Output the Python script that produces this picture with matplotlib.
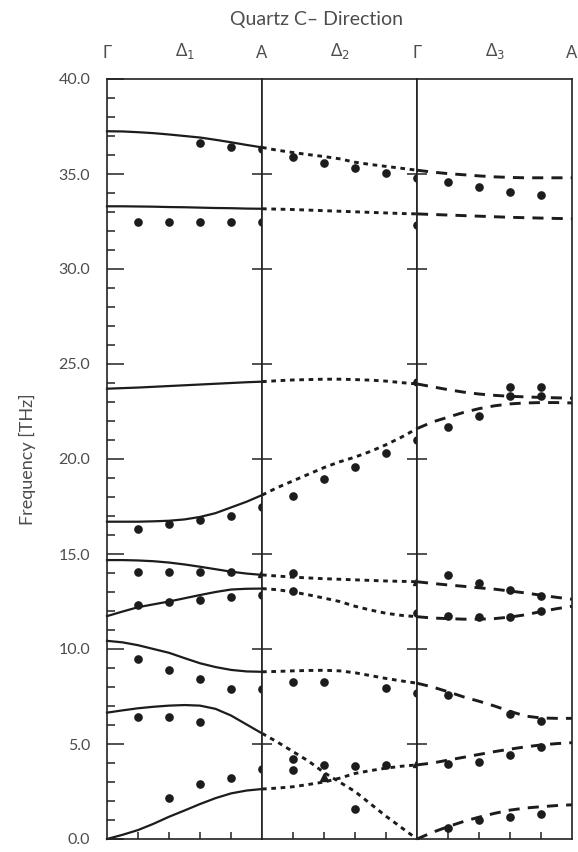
import numpy as np
import matplotlib
matplotlib.use('agg')
import matplotlib.pyplot as plt
from matplotlib.ticker import MultipleLocator, FormatStrFormatter

plt.rcParams.update({
    'font.family': ['Lato', 'DejaVu Sans'],
    'mathtext.fontset': 'dejavusans',
    'text.color': '#4d4d4d',
    'xtick.color': '#222222',
    'ytick.color': '#222222',
    'ytick.labelcolor': '#4d4d4d',
    'axes.edgecolor': '#222222',
})

INK = '#1c1c1c'

# wave vector grid along each leg (Gamma=0, A=1, Gamma=2, A=3)
q_leg1 = [0.0, 0.1, 0.2, 0.3, 0.4, 0.5, 0.6, 0.7, 0.8, 0.9, 1.0]
q_leg2 = [1.0, 1.1, 1.2, 1.3, 1.4, 1.5, 1.6, 1.7, 1.8, 1.9, 2.0]
q_leg3 = [2.0, 2.1, 2.2, 2.3, 2.4, 2.5, 2.6, 2.7, 2.8, 2.9, 3.0]

# calculated branches, Delta_1 (solid)
delta1 = [
    [37.25, 37.24, 37.2, 37.15, 37.08, 37.0, 36.92, 36.8, 36.67, 36.53, 36.4],
    [33.3, 33.3, 33.29, 33.28, 33.26, 33.25, 33.23, 33.21, 33.2, 33.18, 33.17],
    [23.7, 23.73, 23.76, 23.8, 23.84, 23.88, 23.92, 23.96, 24.0, 24.04, 24.07],
    [16.7, 16.7, 16.7, 16.72, 16.75, 16.82, 16.95, 17.15, 17.45, 17.75, 18.1],
    [14.68, 14.68, 14.66, 14.62, 14.55, 14.45, 14.33, 14.2, 14.07, 13.97, 13.9],
    [11.73, 11.97, 12.2, 12.35, 12.5, 12.67, 12.84, 13.0, 13.13, 13.17, 13.18],
    [10.43, 10.35, 10.2, 10.0, 9.8, 9.52, 9.25, 9.05, 8.9, 8.82, 8.8],
    [6.65, 6.77, 6.88, 6.96, 7.02, 7.05, 7.02, 6.85, 6.5, 6.03, 5.56],
    [0.0, 0.22, 0.47, 0.8, 1.17, 1.5, 1.84, 2.15, 2.4, 2.55, 2.63],
]

# Delta_2 (dotted)
delta2 = [
    [36.4, 36.25, 36.13, 36.02, 35.92, 35.8, 35.62, 35.5, 35.4, 35.3, 35.2],
    [33.17, 33.15, 33.13, 33.1, 33.07, 33.04, 33.01, 32.98, 32.95, 32.92, 32.9],
    [24.07, 24.12, 24.16, 24.18, 24.2, 24.2, 24.18, 24.15, 24.1, 24.02, 23.95],
    [18.1, 18.5, 18.85, 19.2, 19.55, 19.85, 20.1, 20.4, 20.75, 21.15, 21.6],
    [13.9, 13.84, 13.78, 13.74, 13.7, 13.67, 13.64, 13.61, 13.58, 13.56, 13.54],
    [13.18, 13.12, 13.0, 12.85, 12.68, 12.5, 12.25, 12.05, 11.88, 11.77, 11.7],
    [8.8, 8.82, 8.85, 8.87, 8.88, 8.85, 8.75, 8.6, 8.45, 8.32, 8.2],
    [5.56, 5.1, 4.6, 4.1, 3.5, 3.0, 2.5, 1.85, 1.2, 0.6, 0.0],
    [2.63, 2.68, 2.75, 2.87, 3.0, 3.2, 3.45, 3.6, 3.73, 3.83, 3.9],
]

# Delta_3 (dashed)
delta3 = [
    [35.2, 35.1, 35.02, 34.96, 34.9, 34.85, 34.82, 34.8, 34.8, 34.8, 34.8],
    [32.9, 32.87, 32.84, 32.81, 32.78, 32.75, 32.72, 32.7, 32.68, 32.66, 32.65],
    [23.95, 23.8, 23.65, 23.52, 23.42, 23.35, 23.3, 23.27, 23.24, 23.22, 23.2],
    [21.6, 21.95, 22.2, 22.45, 22.65, 22.8, 22.9, 22.95, 22.97, 22.97, 22.95],
    [13.54, 13.45, 13.37, 13.3, 13.22, 13.15, 13.05, 12.95, 12.83, 12.72, 12.62],
    [11.7, 11.63, 11.6, 11.57, 11.57, 11.6, 11.68, 11.8, 11.97, 12.12, 12.25],
    [8.2, 8.0, 7.75, 7.48, 7.25, 7.0, 6.72, 6.47, 6.37, 6.35, 6.35],
    [3.9, 4.0, 4.15, 4.3, 4.45, 4.6, 4.73, 4.85, 4.95, 5.02, 5.07],
    [0.0, 0.35, 0.65, 0.92, 1.15, 1.35, 1.52, 1.63, 1.7, 1.76, 1.8],
]

# measured frequencies (dots)
obs1_q = [0.6, 0.8, 1.0,
          0.2, 0.4, 0.6, 0.8, 1.0,
          0.2, 0.4, 0.6, 0.8, 1.0,
          0.2, 0.4, 0.6, 0.8,
          0.2, 0.4, 0.6, 0.8, 1.0,
          0.2, 0.4, 0.6, 0.8, 1.0,
          0.2, 0.4, 0.6,
          0.4, 0.6, 0.8, 1.0]
obs1_f = [36.65, 36.43, 36.3,
          32.5, 32.5, 32.5, 32.5, 32.5,
          16.3, 16.58, 16.8, 17.0, 17.47,
          14.03, 14.03, 14.03, 14.03,
          12.3, 12.45, 12.6, 12.73, 12.85,
          9.5, 8.9, 8.4, 7.92, 7.92,
          6.4, 6.43, 6.17,
          2.14, 2.9, 3.2, 3.66]

obs2_q = [1.2, 1.4, 1.6, 1.8, 2.0,
          2.0, 2.0,
          1.2, 1.4, 1.6, 1.8, 2.0,
          1.2, 1.2, 2.0,
          1.2, 1.4, 1.8, 2.0,
          1.2, 1.2, 1.4, 1.6, 1.6, 1.8]
obs2_f = [35.9, 35.6, 35.3, 35.05, 34.8,
          32.3, 24.05,
          18.07, 18.95, 19.6, 20.3, 21.0,
          14.0, 13.07, 11.92,
          8.25, 8.25, 7.93, 7.67,
          4.19, 3.63, 3.9, 3.84, 1.58, 3.9]

obs3_q = [2.2, 2.4, 2.6, 2.8,
          2.2, 2.4, 2.6, 2.8, 2.6, 2.8,
          2.2, 2.4, 2.6, 2.8,
          2.2, 2.4, 2.6, 2.8,
          2.2, 2.6, 2.8,
          2.2, 2.4, 2.6, 2.8,
          2.2, 2.4, 2.6, 2.8]
obs3_f = [34.6, 34.3, 34.05, 33.9,
          21.7, 22.25, 23.3, 23.3, 23.8, 23.8,
          13.9, 13.5, 13.1, 12.8,
          11.73, 11.7, 11.7, 12.0,
          7.6, 6.6, 6.2,
          3.93, 4.03, 4.42, 4.86,
          0.6, 1.0, 1.17, 1.3]

# Raman / IR points (triangles)
tri_q = [1.0, 1.4, 2.0, 2.0]
tri_f = [14.0, 3.27, 13.58, 4.0]

top_labels = ['Γ', 'Δ$_1$', 'A', 'Δ$_2$', 'Γ', 'Δ$_3$', 'A']
top_pos = [0.0, 0.5, 1.0, 1.5, 2.0, 2.5, 3.0]

fig = plt.figure(figsize=(5.78, 8.52), dpi=100)
axes = fig.subplots(1, 3, gridspec_kw={'wspace': 0})
fig.subplots_adjust(left=107/578, right=572/578, bottom=13/852, top=(852-79)/852)

legs = [(q_leg1, delta1, None), (q_leg2, delta2, (1.6, 1.6)), (q_leg3, delta3, (3.8, 2.8))]
obs = [(obs1_q, obs1_f), (obs2_q, obs2_f), (obs3_q, obs3_f)]

for i, ax in enumerate(axes):
    q, branches, dash = legs[i]
    for f in branches:
        if dash is None:
            ax.plot(q, f, '-', color=INK, lw=1.6, clip_on=False)
        else:
            ax.plot(q, f, '--', color=INK, lw=2.1, dashes=dash, clip_on=False)
    ax.plot(obs[i][0], obs[i][1], 'o', color=INK, ms=5.2, clip_on=False, zorder=5)
    ax.set_xlim(i, i + 1)
    ax.set_ylim(0, 40)
    ax.set_xticks([i + 0.2, i + 0.4, i + 0.6, i + 0.8])
    ax.tick_params(axis='x', direction='in', length=5, width=1.1, labelbottom=False)
    for s in ax.spines.values():
        s.set_linewidth(1.2)
    if i > 0:
        ax.set_yticks([5, 10, 15, 20, 25, 30, 35])
        ax.tick_params(axis='y', which='major', direction='inout', length=14, width=1.1, labelleft=False)

ax1 = axes[0]
ax1.plot(tri_q[:1], tri_f[:1], '^', color=INK, ms=5.5, clip_on=False, zorder=6)
axes[1].plot(tri_q[1:], tri_f[1:], '^', color=INK, ms=5.5, clip_on=False, zorder=6)

ax1.yaxis.set_major_locator(MultipleLocator(5))
ax1.yaxis.set_minor_locator(MultipleLocator(1))
ax1.yaxis.set_major_formatter(FormatStrFormatter('%.1f'))
ax1.tick_params(axis='y', which='major', direction='in', length=12, width=1.1, pad=12, labelsize=11.5)
ax1.tick_params(axis='y', which='minor', direction='in', length=6, width=1.1)
ax1.set_ylabel('Frequency [THz]', fontsize=13, labelpad=16, color='#4d4d4d')

for lab, x in zip(top_labels, top_pos):
    k = min(int(x), 2)
    axes[k].annotate(lab, xy=(x, 1.0), xycoords=('data', 'axes fraction'),
                     xytext=(0, 13), textcoords='offset points',
                     ha='center', va='bottom', fontsize=12)

fig.text(317/578, 1 - 20/852, 'Quartz C– Direction', ha='center', va='center', fontsize=14)

fig.savefig('out.png', dpi=100)
